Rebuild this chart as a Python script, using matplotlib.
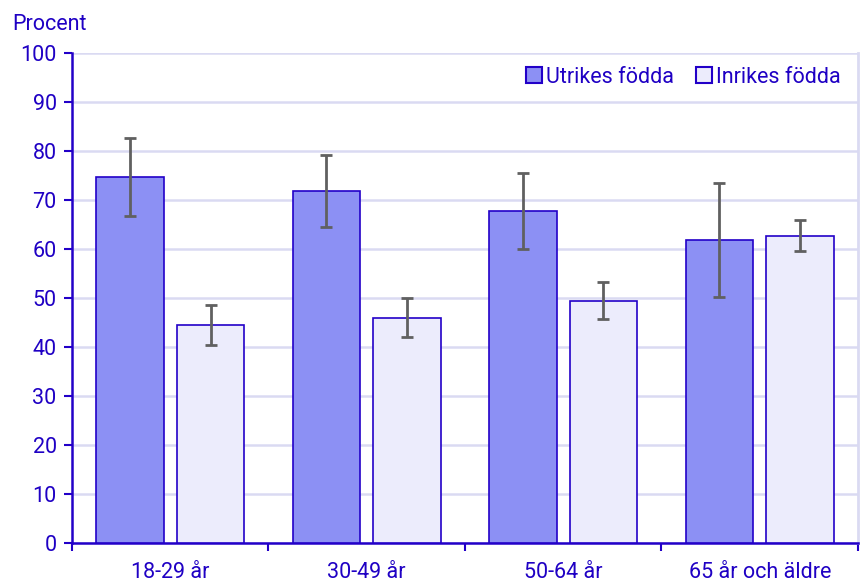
import matplotlib.pyplot as plt
import numpy as np
from matplotlib.patches import Patch

# Data
groups = ["18-29 år", "30-49 år", "50-64 år", "65 år och äldre"]
series = ["Utrikes födda", "Inrikes födda"]
utrikes = [74.7, 71.8, 67.7, 61.8]
utrikes_lo = [66.8, 64.5, 60.0, 50.3]
utrikes_hi = [82.7, 79.1, 75.6, 73.4]
inrikes = [44.5, 46.0, 49.4, 62.7]
inrikes_lo = [40.5, 42.1, 45.7, 59.5]
inrikes_hi = [48.5, 49.9, 53.3, 65.9]

TXT = "#1f00c4"
AX = "#2200c8"
GRID = "#dadaf2"
C_UT = "#8c90f4"
C_IN = "#ececfc"
ERR = "#606060"

plt.rcParams["font.family"] = ["Roboto", "DejaVu Sans"]
FS = 15.5

fig = plt.figure(figsize=(8.64, 5.83), dpi=100)
ax = fig.add_axes([0.0833, 0.0686, 0.9097, 0.8405])

x = np.arange(len(groups))
w = 0.345
off = 0.205

def errs(vals, lo, hi):
    v = np.array(vals)
    return [v - np.array(lo), np.array(hi) - v]

ax.bar(x - off, utrikes, w, color=C_UT, edgecolor=AX, linewidth=1.2, zorder=3)
ax.bar(x + off, inrikes, w, color=C_IN, edgecolor=AX, linewidth=1.2, zorder=3)
ax.errorbar(x - off, utrikes, yerr=errs(utrikes, utrikes_lo, utrikes_hi),
            fmt="none", ecolor=ERR, elinewidth=2, capsize=4.5, capthick=2, zorder=4)
ax.errorbar(x + off, inrikes, yerr=errs(inrikes, inrikes_lo, inrikes_hi),
            fmt="none", ecolor=ERR, elinewidth=2, capsize=4.5, capthick=2, zorder=4)

ax.set_xlim(-0.5, 3.5)
ax.set_ylim(0, 100)
ax.set_yticks(range(0, 101, 10))
ax.yaxis.grid(True, color=GRID, linewidth=1.8, zorder=0)
ax.set_axisbelow(True)

# x ticks at group boundaries, labels at centers
ax.set_xticks(np.arange(-0.5, 4, 1))
ax.set_xticklabels([])
ax.set_xticks(x, minor=True)
ax.set_xticklabels(groups, minor=True)
ax.tick_params(axis="x", which="major", length=6, width=1.5, color=AX, direction="out")
ax.tick_params(axis="x", which="minor", length=0, pad=14, labelsize=FS, labelcolor=TXT)
ax.tick_params(axis="y", length=6, width=1.5, color=AX, labelsize=FS, labelcolor=TXT, pad=5)

for s in ["left", "bottom"]:
    ax.spines[s].set_color(AX)
    ax.spines[s].set_linewidth(1.8)
ax.spines["top"].set_visible(False)
ax.spines["right"].set_color(GRID)
ax.spines["right"].set_linewidth(2)

handles = [Patch(facecolor=C_UT, edgecolor=AX, linewidth=1.5),
           Patch(facecolor=C_IN, edgecolor=AX, linewidth=1.5)]
leg = ax.legend(handles, series, loc="upper right", ncol=2, frameon=False,
                fontsize=FS, handlelength=0.75, handleheight=0.75, handletextpad=0.2,
                columnspacing=1.0, bbox_to_anchor=(0.995, 0.998), borderaxespad=0.2)
for t in leg.get_texts():
    t.set_color(TXT)

fig.text(0.014, 0.949, "Procent", color=TXT, fontsize=FS, ha="left", va="baseline")

fig.savefig("out.png", dpi=100, facecolor="white")
